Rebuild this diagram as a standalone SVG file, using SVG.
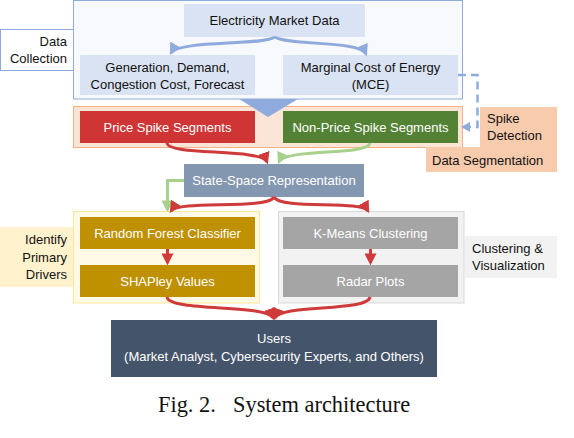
<svg xmlns="http://www.w3.org/2000/svg" width="574" height="438" viewBox="0 0 574 438">
<style>
text{font-family:"Liberation Sans",Arial,sans-serif;font-size:13px}
.w{fill:#fff}
.k{fill:#111}
.c{text-anchor:middle}
.r{text-anchor:end}
.cap{font-family:"Liberation Serif","Times New Roman",serif;font-size:22.4px;fill:#111}
.red{fill:none;stroke:#cf3a3a;stroke-width:3;marker-end:url(#ar)}
.grn{fill:none;stroke:#a9d18e;stroke-width:3;marker-end:url(#ag)}
.blu{fill:none;stroke:#8faadc;stroke-width:3;marker-end:url(#ab)}
</style>
<defs>
<marker id="ar" viewBox="0 0 10 10" refX="8" refY="5" markerWidth="4" markerHeight="4" orient="auto" markerUnits="strokeWidth"><path d="M0,0L10,5L0,10z" fill="#cf3a3a"/></marker>
<marker id="ag" viewBox="0 0 10 10" refX="8" refY="5" markerWidth="4" markerHeight="4" orient="auto" markerUnits="strokeWidth"><path d="M0,0L10,5L0,10z" fill="#a9d18e"/></marker>
<marker id="ab" viewBox="0 0 10 10" refX="8" refY="5" markerWidth="4" markerHeight="4" orient="auto" markerUnits="strokeWidth"><path d="M0,0L10,5L0,10z" fill="#8faadc"/></marker>
</defs>
<rect width="574" height="438" fill="#fff"/>

<g id="data-collection">
<rect x="73.5" y="0.5" width="389" height="98.5" fill="#f7f9fd" stroke="#8faadc"/>
<rect x="0.5" y="29.5" width="73" height="41" fill="#fff" stroke="#8faadc"/>
<text class="k r" x="67" y="46">Data</text>
<text class="k r" x="67" y="63">Collection</text>
</g>
<g id="electricity-market-data">
<rect x="184" y="4" width="181" height="33" fill="#dae3f3"/>
<text class="k c" x="274.5" y="25">Electricity Market Data</text>
</g>
<g id="generation">
<rect x="80" y="55" width="175" height="40" fill="#dae3f3"/>
<text class="k c" x="167.5" y="72">Generation, Demand,</text>
<text class="k c" x="167.5" y="88.5">Congestion Cost, Forecast</text>
</g>
<g id="mce">
<rect x="283" y="55" width="175" height="40" fill="#dae3f3"/>
<text class="k c" x="370.5" y="72">Marginal Cost of Energy</text>
<text class="k c" x="370.5" y="88.5">(MCE)</text>
</g>

<g id="data-segmentation">
<rect x="73.5" y="106.5" width="389" height="41" fill="#fbe5d6" stroke="#f4b183"/>
<rect x="480" y="107" width="77" height="42" fill="#f8cbad"/>
<text class="k" x="487" y="123">Spike</text>
<text class="k" x="487" y="140">Detection</text>
<rect x="426" y="147" width="131" height="25" fill="#f8cbad"/>
<text class="k" x="432" y="165">Data Segmentation</text>
</g>
<g id="price-spike">
<rect x="80" y="111" width="175" height="32" fill="#cf3535"/>
<text class="w c" x="167.5" y="131.5">Price Spike Segments</text>
</g>
<g id="non-price-spike">
<rect x="283" y="111" width="175" height="32" fill="#548235"/>
<text class="w c" x="370.5" y="131.5">Non-Price Spike Segments</text>
</g>

<g id="state-space">
<rect x="184" y="164" width="180" height="33" fill="#8497b0"/>
<text class="w c" x="274" y="185">State-Space Representation</text>
</g>

<g id="identify-drivers">
<rect x="73.5" y="211.5" width="186" height="91.5" fill="#fff9e6" stroke="#ffe699"/>
<rect x="0" y="227" width="73" height="60" fill="#fff2cc"/>
<text class="k r" x="67" y="244">Identify</text>
<text class="k r" x="67" y="261.5">Primary</text>
<text class="k r" x="67" y="279">Drivers</text>
</g>
<g id="random-forest">
<rect x="80" y="217" width="175" height="32" fill="#bf9000"/>
<text class="w c" x="167.5" y="237.5">Random Forest Classifier</text>
</g>
<g id="shapley">
<rect x="80" y="265" width="175" height="32" fill="#bf9000"/>
<text class="w c" x="167.5" y="286">SHAPley Values</text>
</g>

<g id="clustering">
<rect x="278.5" y="211.5" width="185.5" height="91.5" fill="#f2f2f2" stroke="#d9d9d9"/>
<rect x="465" y="236" width="92" height="42" fill="#f2f2f2"/>
<text class="k" x="472" y="253">Clustering &amp;</text>
<text class="k" x="472" y="270">Visualization</text>
</g>
<g id="kmeans">
<rect x="283" y="217" width="175" height="32" fill="#a5a5a5"/>
<text class="w c" x="370.5" y="237.5">K-Means Clustering</text>
</g>
<g id="radar">
<rect x="283" y="265" width="175" height="32" fill="#a5a5a5"/>
<text class="w c" x="370.5" y="286">Radar Plots</text>
</g>

<g id="users">
<rect x="111" y="320" width="326" height="57" fill="#44546a"/>
<text class="w c" x="274" y="343">Users</text>
<text class="w c" x="274" y="361">(Market Analyst, Cybersecurity Experts, and Others)</text>
</g>

<g id="connectors">
<path class="blu" d="M275,37 C262,46 178,40 171,53"/>
<path class="blu" d="M275,37 C288,46 360,40 366,54"/>
<polygon points="239,99 298,99 268,117" fill="#8faadc"/>
<path d="M458,75 H477.5 V127 H467" fill="none" stroke="#8faadc" stroke-width="2.5" stroke-dasharray="8,5"/>
<path d="M470,122 L461,127 L470,132z" fill="#8faadc"/>
<path class="red" d="M167,143 C168,156 262,148 267,162"/>
<path class="grn" d="M370,143 C368,156 285,148 279,162"/>
<path class="grn" d="M184,180.5 H167.5 V210"/>
<path class="red" d="M274,197 C268,210 178,200 171,211"/>
<path class="red" d="M274,197 C280,210 362,200 368,211"/>
<path class="red" d="M167.5,249 V263"/>
<path class="red" d="M370.5,249 V263"/>
<path class="red" d="M167,297 C169,312 268,304 273,318"/>
<path class="red" d="M370,297 C368,312 280,304 275,318"/>
</g>

<text class="cap" x="158" y="412">Fig. 2.</text>
<text class="cap" x="233" y="412">System architecture</text>
</svg>
